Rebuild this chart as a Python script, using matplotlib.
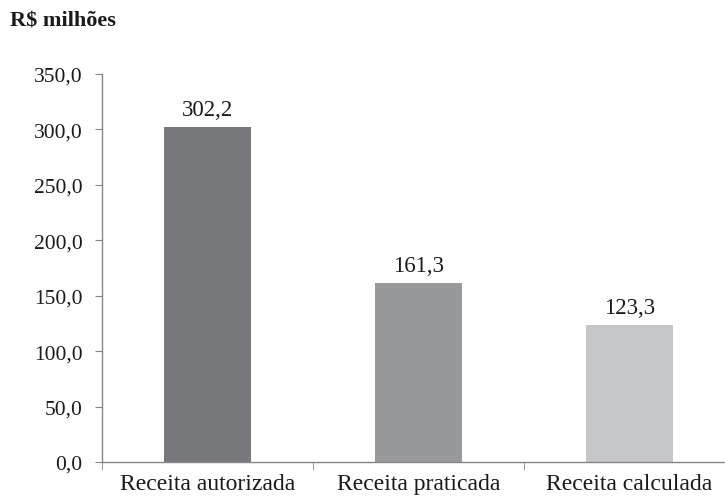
import matplotlib
matplotlib.use("Agg")
import matplotlib.pyplot as plt
from matplotlib.ticker import FuncFormatter, FixedLocator

categories = ["Receita autorizada", "Receita praticada", "Receita calculada"]
values = [302.2, 161.3, 123.3]
colors = ["#77787b", "#98999b", "#c6c7c8"]
yticks = [0, 50, 100, 150, 200, 250, 300, 350]

plt.rcParams['font.family'] = ['Liberation Serif', 'DejaVu Serif']

fig = plt.figure(figsize=(7.25, 5.02), dpi=100)
ax = fig.add_axes([102/725, 39/502, 633/725, 388/502])

x = list(range(len(categories)))
bars = ax.bar(x, values, width=0.41, color=colors, zorder=2)
for xi, v in zip(x, values):
    ax.annotate(f"{v:.1f}".replace(".", ","), (xi, v), xytext=(0, 5),
                textcoords="offset points", ha="center", va="bottom",
                fontsize=16.5, color="#1a1a1a")

ax.set_xlim(-0.5, len(categories) - 0.5)
ax.set_ylim(0, 350)
ax.set_yticks(yticks)
ax.yaxis.set_major_formatter(FuncFormatter(lambda v, p: f"{v:.1f}".replace(".", ",")))
ax.set_xticks(x)
ax.set_xticklabels(categories)
ax.xaxis.set_minor_locator(FixedLocator([-0.5, 0.5, 1.5, 2.5]))
ax.tick_params(axis='x', which='major', length=0, labelsize=17, pad=8, colors="#1a1a1a")
ax.tick_params(axis='x', which='minor', length=6, color="#868686")
ax.tick_params(axis='y', length=5, color="#868686", labelsize=15.5, pad=9, labelcolor="#1a1a1a")

for s in ["top", "right"]:
    ax.spines[s].set_visible(False)
for s in ["left", "bottom"]:
    ax.spines[s].set_color("#868686")
    ax.spines[s].set_linewidth(1.0)

fig.text(10/725, 1 - 22/502, "R$ milhões", fontsize=16, fontweight="bold",
         va="center", ha="left", color="#1a1a1a")

fig.savefig("out.png", dpi=100)
